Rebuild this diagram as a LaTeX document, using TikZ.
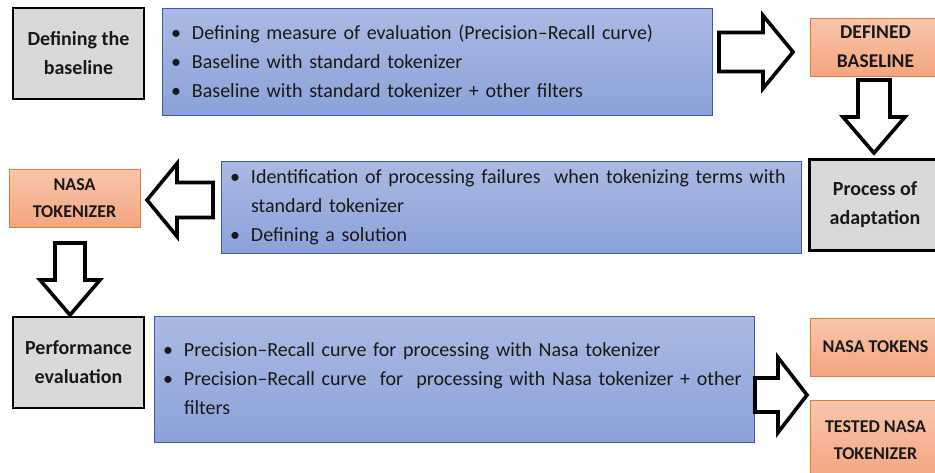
\documentclass[tikz,border=0pt]{standalone}
\usepackage{fontspec}
\setmainfont{Carlito}
\usetikzlibrary{calc}

\definecolor{bluetop}{RGB}{171,185,227}
\definecolor{bluebot}{RGB}{139,162,216}
\definecolor{blueline}{RGB}{60,92,168}
\definecolor{orangetop}{RGB}{249,198,172}
\definecolor{orangebot}{RGB}{244,164,128}
\definecolor{orangeline}{RGB}{226,124,62}
\definecolor{greyfill}{RGB}{217,217,217}
\definecolor{inkc}{RGB}{25,25,25}

% bullet of a list line, and the indent of a wrapped line
\newcommand{\bul}{\makebox[21pt][l]{•}}
\newcommand{\cont}{\hspace*{21pt}}

% block arrow: start, angle, length, head width, shaft width, head length
\newcommand{\blockarrow}[6]{%
  \draw[barrow, shift={#1}, rotate=#2]
    (0,{-#5/2}) -- ({#3-#6},{-#5/2}) -- ({#3-#6},{-#4/2}) -- (#3,0)
    -- ({#3-#6},{#4/2}) -- ({#3-#6},{#5/2}) -- (0,{#5/2}) -- cycle;
}

\begin{document}
\begin{tikzpicture}[
    x=1pt, y=-1pt,
    every node/.style={text=inkc},
    stage/.style = {draw=black, line width=2.2pt, fill=greyfill,
      minimum width=131pt, minimum height=91pt, align=center,
      font=\bfseries\fontsize{20}{29}\selectfont},
    task/.style = {draw=blueline, line width=1pt,
      top color=bluetop, bottom color=bluebot,
      inner xsep=9pt, align=left,
      font=\fontsize{20}{29}\selectfont},
    result/.style = {draw=orangeline, line width=1pt,
      top color=orangetop, bottom color=orangebot,
      minimum width=131pt, align=center,
      font=\bfseries\fontsize{18}{27}\selectfont},
    barrow/.style = {draw=black, fill=white, line width=3.6pt, line join=miter},
  ]
  \clip (0,0) rectangle (935,472);

  % first row
  \node[stage] (def) at (78.5,53.5) {Defining the\\baseline};
  \node[task, minimum width=550pt, minimum height=107pt, text width=532pt] (bl1) at (437,61.5)
    {\bul Defining measure of evaluation (Precision–Recall curve)\\
     \bul Baseline with standard tokenizer\\
     \bul Baseline with standard tokenizer + other filters};
  \node[result, minimum height=58pt, font=\bfseries\fontsize{19.5}{29}\selectfont] (dbase) at (875.5,47)
    {DEFINED\\BASELINE};

  % second row
  \node[stage] (proc) at (875,205) {Process of\\adaptation};
  \node[task, minimum width=578pt, minimum height=92pt, text width=562pt] (bl2) at (511,207)
    {\bul Identification of processing failures\ \ when tokenizing terms with\\
     \cont standard tokenizer\\
     \bul Defining a solution};
  \node[result, minimum height=58pt] (ntok) at (74.5,198) {NASA\\TOKENIZER};

  % third row
  \node[stage] (perf) at (78.5,362.5) {Performance\\evaluation};
  \node[task, minimum width=598pt, minimum height=126pt, text width=582pt] (bl3) at (454,379)
    {\bul Precision–Recall curve for processing with Nasa tokenizer\\
     \bul Precision–Recall curve\ \ for\ \ processing with Nasa tokenizer + other\\
     \cont filters};
  \node[result, minimum height=58pt] (ntoks) at (875.5,347) {NASA TOKENS};
  \node[result, minimum height=80pt] (tested) at (875.5,440) {TESTED NASA\\TOKENIZER};

  % block arrows
  \blockarrow{(719,52)}{0}{74}{73}{39}{30}
  \blockarrow{(874,80)}{-90}{73}{62}{32}{36}
  \blockarrow{(213,200)}{180}{66}{73}{35}{30}
  \blockarrow{(70,243)}{-90}{72}{60}{30}{35}
  \blockarrow{(755,395)}{0}{52}{75}{34}{29}
\end{tikzpicture}
\end{document}
